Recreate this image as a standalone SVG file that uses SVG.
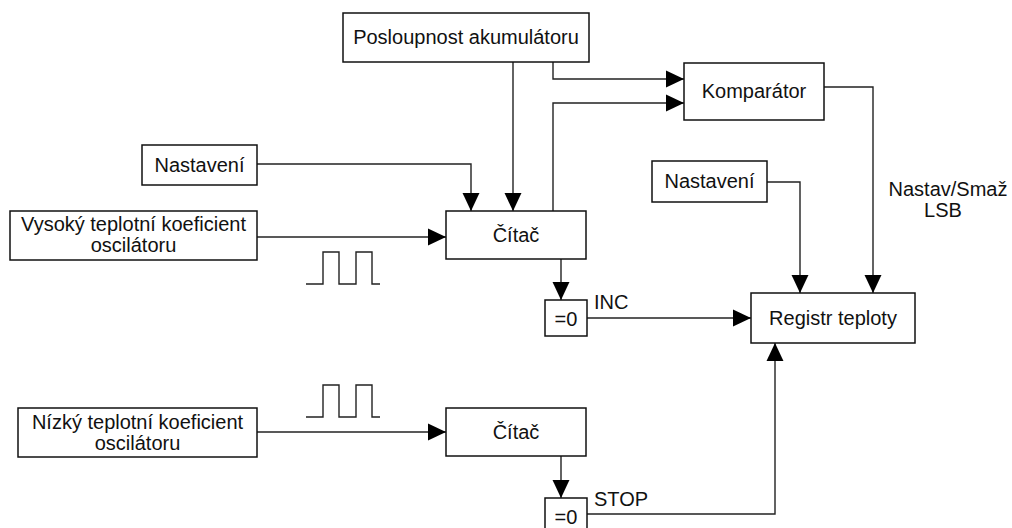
<svg xmlns="http://www.w3.org/2000/svg" width="1012" height="528" viewBox="0 0 1012 528">
<style>
.box{fill:#fff;stroke:#111;stroke-width:1.5}
.t{font-family:"Liberation Sans",Arial,sans-serif;font-size:20px;fill:#111;text-anchor:middle}
.tl{font-family:"Liberation Sans",Arial,sans-serif;font-size:20px;fill:#111}
.c{fill:none;stroke:#222;stroke-width:1.4}
</style>
<defs>
<marker id="ah" markerUnits="userSpaceOnUse" markerWidth="18" markerHeight="18" viewBox="0 0 17 16" refX="17" refY="8" orient="auto">
<path d="M0,0 L17,8 L0,16 Z" fill="#000"/>
</marker>
</defs>
<rect width="1012" height="528" fill="#fff"/>
<g id="connectors">
<path class="c" d="M513,62 V211" marker-end="url(#ah)"/>
<path class="c" d="M553,62 V79 H684" marker-end="url(#ah)"/>
<path class="c" d="M553,211 V103 H684" marker-end="url(#ah)"/>
<path class="c" d="M257,164 H471 V211" marker-end="url(#ah)"/>
<path class="c" d="M257,237 H446" marker-end="url(#ah)"/>
<path class="c" d="M561,259 V300" marker-end="url(#ah)"/>
<path class="c" d="M587,318 H751" marker-end="url(#ah)"/>
<path class="c" d="M767,182 H800 V293" marker-end="url(#ah)"/>
<path class="c" d="M824,87 H873 V293" marker-end="url(#ah)"/>
<path class="c" d="M257,432 H446" marker-end="url(#ah)"/>
<path class="c" d="M561,456 V498" marker-end="url(#ah)"/>
<path class="c" d="M587,514 H775 V343" marker-end="url(#ah)"/>
</g>
<g id="pulse-top"><path class="c" d="M306,284 H323 V252 H339 V284 H356 V252 H372 V284 H380"/></g>
<g id="pulse-bottom"><path class="c" d="M306,417 H323 V385 H339 V417 H356 V385 H372 V417 H380"/></g>
<g id="posloupnost"><rect class="box" x="343" y="13" width="246" height="49"/><text class="t" x="466" y="44">Posloupnost akumulátoru</text></g>
<g id="komparator"><rect class="box" x="684" y="63" width="140" height="57"/><text class="t" x="754" y="98">Komparátor</text></g>
<g id="nastaveni-left"><rect class="box" x="142" y="145" width="115" height="40"/><text class="t" x="199.5" y="172">Nastavení</text></g>
<g id="nastaveni-right"><rect class="box" x="652" y="161" width="115" height="41"/><text class="t" x="709.5" y="188">Nastavení</text></g>
<g id="vysoky"><rect class="box" x="10" y="211" width="247" height="49"/><text class="t" x="133.5" y="231">Vysoký teplotní koeficient</text><text class="t" x="133.5" y="252">oscilátoru</text></g>
<g id="citac-top"><rect class="box" x="446" y="211" width="140" height="48"/><text class="t" x="516" y="242">Čítač</text></g>
<g id="zero-top"><rect class="box" x="545" y="300" width="42" height="36"/><text class="t" x="566" y="326">=0</text></g>
<g id="label-inc"><text class="tl" x="594" y="309">INC</text></g>
<g id="registr"><rect class="box" x="751" y="293" width="164" height="50"/><text class="t" x="833" y="325">Registr teploty</text></g>
<g id="label-nastav"><text class="t" x="948" y="196">Nastav/Smaž</text><text class="t" x="943" y="217">LSB</text></g>
<g id="nizky"><rect class="box" x="18" y="408" width="239" height="49"/><text class="t" x="137.5" y="429">Nízký teplotní koeficient</text><text class="t" x="137.5" y="450">oscilátoru</text></g>
<g id="citac-bottom"><rect class="box" x="446" y="408" width="140" height="48"/><text class="t" x="516" y="439">Čítač</text></g>
<g id="zero-bottom"><rect class="box" x="545" y="498" width="42" height="36"/><text class="t" x="566" y="524">=0</text></g>
<g id="label-stop"><text class="tl" x="594" y="506">STOP</text></g>
</svg>
